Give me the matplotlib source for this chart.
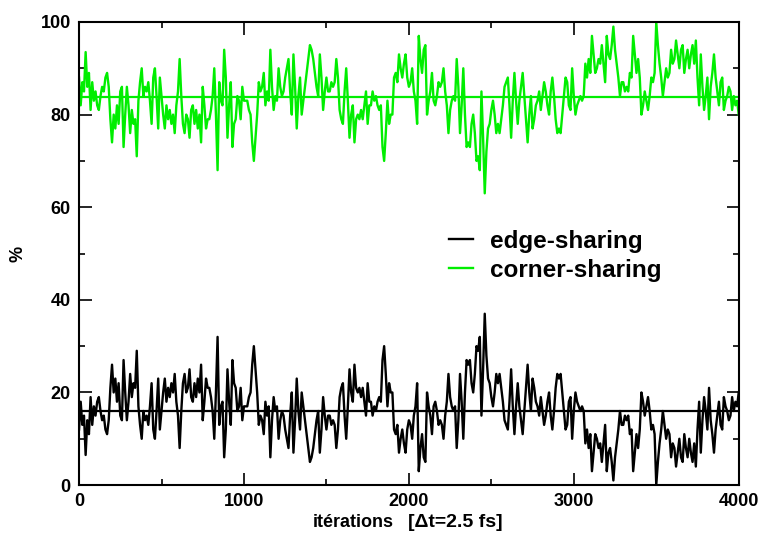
import numpy as np
from matplotlib import pyplot as plt

# iterations sampled every 10 steps, 0 .. 4000
iterations = np.arange(0, 4001, 10)

# edge-sharing percentage, one row per 100 iterations
edge_sharing = [
    12, 18, 13, 15, 6.5, 14, 11, 19, 13, 17,
    15, 18, 19, 16, 14, 15, 12, 11, 14, 21,
    26, 20, 23, 18, 22, 15, 14, 27, 20, 14,
    18, 24, 19, 22, 21, 29, 17, 13, 10, 16,
    14, 15, 13, 17, 22, 12, 10, 16, 23, 12,
    16, 20, 23, 18, 21, 19, 22, 20, 24, 18,
    15, 8, 16, 22, 24, 20, 21, 25, 19, 18,
    22, 19, 23, 20, 26, 14, 18, 23, 21, 21,
    19, 16, 10, 20, 32, 13, 17, 18, 6, 12,
    25, 18, 13, 27, 22, 21, 16, 17, 21, 14,
    17, 17, 17, 19, 20, 26, 30, 25, 20, 13,
    15, 14, 11, 18, 15, 17, 6, 14, 19, 16,
    17, 10, 14, 16, 15, 12, 10, 8, 15, 20,
    7, 14, 23, 16, 12, 20, 17, 14, 11, 8,
    5, 6, 8, 11, 14, 16, 7, 12, 19, 15,
    12, 15, 15, 13, 14, 13, 8, 12, 19, 21,
    22, 15, 10, 17, 25, 20, 18, 26, 21, 20,
    21, 19, 21, 18, 15, 22, 18, 18, 15, 17,
    16, 18, 19, 18, 27, 30, 24, 17, 22, 20,
    20, 12, 11, 13, 7, 10, 12, 9, 7, 12,
    14, 13, 10, 15, 17, 22, 3, 8, 11, 6,
    5, 20, 17, 15, 11, 17, 18, 16, 13, 14,
    13, 10, 15, 18, 24, 19, 17, 16, 17, 8,
    14, 24, 18, 10, 20, 27, 26, 27, 22, 20,
    24, 30, 29, 32, 15, 25, 37, 28, 23, 22,
    19, 17, 20, 24, 22, 24, 21, 18, 14, 13,
    12, 18, 25, 17, 11, 17, 22, 17, 14, 11,
    16, 21, 26, 20, 16, 23, 21, 18, 17, 15,
    19, 16, 13, 15, 18, 20, 15, 12, 16, 21,
    24, 23, 24, 20, 16, 12, 13, 18, 19, 10,
    16, 20, 18, 17, 16, 17, 16, 9, 12, 8,
    11, 3, 7, 11, 10, 8, 9, 5, 9, 13,
    3, 7, 8, 5, 1, 6, 9, 12, 16, 13,
    13, 15, 14, 15, 11, 12, 3, 7, 11, 8,
    12, 20, 18, 15, 17, 19, 16, 12, 13, 11,
    0, 5, 9, 12, 16, 13, 10, 12, 11, 6,
    9, 8, 4, 7, 10, 6, 5, 11, 8, 6,
    10, 7, 5, 9, 4, 12, 18, 7, 14, 19,
    16, 12, 21, 14, 11, 7, 12, 15, 18, 13,
    12, 19, 17, 16, 14, 15, 19, 16, 18, 17,
    20,
]
# corner-sharing is the complement
corner_sharing = [100 - v for v in edge_sharing]

edge_avg = 16.1
corner_avg = 83.9

plt.rcParams['font.family'] = ['Liberation Sans', 'DejaVu Sans']
plt.rcParams['font.weight'] = 'bold'

fig = plt.figure(figsize=(7.6, 5.36), dpi=100)
ax = fig.add_axes([0.104, 0.095, 0.868, 0.864])

green = '#00ee00'
ax.plot(iterations, edge_sharing, color='black', lw=1.7, label='edge-sharing')
ax.plot(iterations, corner_sharing, color=green, lw=1.7, label='corner-sharing')
ax.axhline(edge_avg, color='black', lw=1.6)
ax.axhline(corner_avg, color=green, lw=1.6)

ax.set_xlim(0, 4000)
ax.set_ylim(0, 100)
ax.set_xticks(range(0, 4001, 1000))
ax.set_xticks(range(500, 4000, 1000), minor=True)
ax.set_yticks(range(0, 101, 20))
ax.set_yticks(range(10, 100, 20), minor=True)
ax.tick_params(which='both', direction='in', top=True, right=True, width=1.2,
               labelsize=13, pad=6)
ax.tick_params(which='major', length=9)
ax.tick_params(which='minor', length=4.5)
for sp in ax.spines.values():
    sp.set_linewidth(1.5)

# x label in two pieces, the bracket part reads a bit wider in the original
ax.text(0.3545, -0.08, 'itérations', transform=ax.transAxes,
        ha='left', va='center', fontsize=13, fontweight='bold')
ax.text(0.4985, -0.08, '[\u0394t=2.5 fs]', transform=ax.transAxes,
        ha='left', va='center', fontsize=14, fontweight='bold')

ax.set_ylabel('%', fontsize=13, fontweight='bold')
ax.yaxis.set_label_coords(-0.08, 0.5)

ax.legend(loc='upper left', bbox_to_anchor=(0.561, 0.551), frameon=False,
          fontsize=17.5, handlelength=1.0, handletextpad=0.7, labelspacing=0.25,
          borderpad=0, borderaxespad=0)

fig.savefig('out.png', dpi=100)
